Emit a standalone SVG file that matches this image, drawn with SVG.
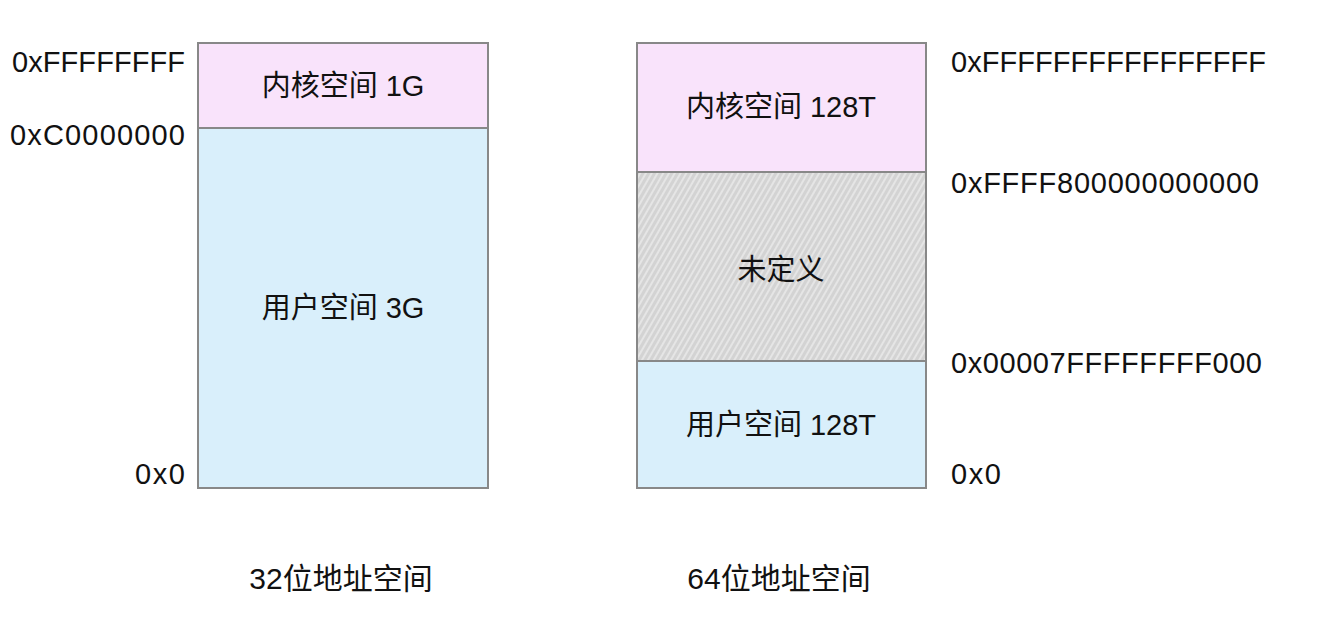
<svg xmlns="http://www.w3.org/2000/svg" width="1317" height="620" viewBox="0 0 1317 620">
<style>
text{font-family:"Liberation Sans","Noto Sans CJK SC",sans-serif;fill:#111;font-size:29px}
.c{text-anchor:middle;dominant-baseline:central}
.r{text-anchor:end}
.cap{font-size:30px}
.box{stroke:#888;stroke-width:2}
.k{fill:#f9e3fb}
.u{fill:#d9effb}
</style>
<defs>
<pattern id="hatch" width="5" height="5" patternUnits="userSpaceOnUse" patternTransform="rotate(30)">
<rect width="5" height="5" fill="#d3d3d3"/>
<line x1="1" y1="0" x2="1" y2="5" stroke="#ececec" stroke-width="1.5"/>
</pattern>
</defs>
<rect width="1317" height="620" fill="#fff"/>
<g id="left-32">
<g id="k32"><rect class="box k" x="198" y="43" width="290" height="85"/><text class="c" x="343" y="86">内核空间 1G</text></g>
<g id="u32"><rect class="box u" x="198" y="128" width="290" height="360"/><text class="c" x="343" y="308">用户空间 3G</text></g>
<text x="12" y="72" textLength="173" lengthAdjust="spacing">0xFFFFFFFF</text>
<text x="10" y="145" textLength="175" lengthAdjust="spacing">0xC0000000</text>
<text x="135" y="484" textLength="50" lengthAdjust="spacing">0x0</text>
<text class="c cap" x="341" y="578">32位地址空间</text>
</g>
<g id="right-64">
<g id="k64"><rect class="box k" x="637" y="43" width="289" height="129"/><text class="c" x="781" y="107">内核空间 128T</text></g>
<g id="undef"><rect class="box" x="637" y="172" width="289" height="189" fill="url(#hatch)"/><text class="c" x="781" y="270">未定义</text></g>
<g id="u64"><rect class="box u" x="637" y="361" width="289" height="127"/><text class="c" x="781" y="425">用户空间 128T</text></g>
<text x="951" y="72" textLength="315" lengthAdjust="spacing">0xFFFFFFFFFFFFFFFF</text>
<text x="951" y="193" textLength="308" lengthAdjust="spacing">0xFFFF800000000000</text>
<text x="951" y="373" textLength="311" lengthAdjust="spacing">0x00007FFFFFFFF000</text>
<text x="951" y="484" textLength="50" lengthAdjust="spacing">0x0</text>
<text class="c cap" x="779" y="578">64位地址空间</text>
</g>
<g id="connectors"/>
</svg>
